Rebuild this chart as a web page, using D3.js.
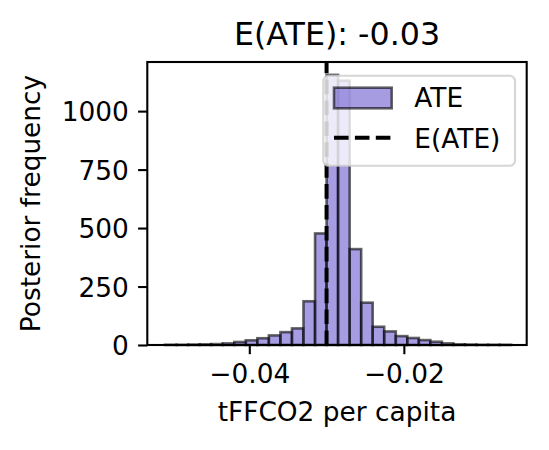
<!DOCTYPE html>
<html>
<head>
<meta charset="utf-8">
<script src="https://cdn.jsdelivr.net/npm/d3@7"></script>
<style>
    body { margin: 0; background: #fff; }
    text { font-family: "DejaVu Sans", sans-serif; fill: #000; }
</style>
</head>
<body>
<div id="graph1"></div>
<script>

// histogram bins
let binEdges = [-0.05090, -0.04941, -0.04791, -0.04642, -0.04493, -0.04344, -0.04194, -0.04045,
    -0.03896, -0.03747, -0.03597, -0.03448, -0.03299, -0.03149, -0.03000, -0.02851, -0.02701,
    -0.02552, -0.02403, -0.02254, -0.02104, -0.01955, -0.01806, -0.01657, -0.01507, -0.01358,
    -0.01209, -0.01060, -0.00910, -0.00761, -0.00612];
let binCounts = [1, 1, 2, 3, 4, 7, 13, 20, 29, 41, 55, 71, 187, 477, 1155, 1130, 410, 181,
    78, 58, 38, 30, 21, 14, 7, 3, 2, 1, 1, 1];
let meanATE = -0.0300;

let xTicks = [-0.04, -0.02];
let yTicks = [0, 250, 500, 750, 1000];
let xDomain = [-0.0532, -0.0041];
let yDomain = [0, 1210];

let width = 549,
    height = 450;
let margin = { top: 62, right: 22.3, bottom: 105, left: 147.3 };
let plotW = width - margin.left - margin.right,
    plotH = height - margin.top - margin.bottom;

let bins = binCounts.map(function (c, i) {
    return { x0: binEdges[i], x1: binEdges[i + 1], count: c };
});

let svg = d3.select("#graph1")
    .append("svg")
    .attr("width", width)
    .attr("height", height)
    .append("g")
    .attr("transform", `translate(${margin.left}, ${margin.top})`);

let x = d3.scaleLinear().domain(xDomain).range([0, plotW]);
let y = d3.scaleLinear().domain(yDomain).range([plotH, 0]);

// bars
svg.append("g")
    .selectAll("rect")
    .data(bins)
    .enter()
    .append("rect")
    .attr("x", function (d) { return x(d.x0) })
    .attr("y", function (d) { return y(d.count) })
    .attr("width", function (d) { return x(d.x1) - x(d.x0) })
    .attr("height", function (d) { return y(0) - y(d.count) })
    .attr("fill", "#6a5acd")
    .attr("fill-opacity", 0.6)
    .attr("stroke", "#000")
    .attr("stroke-opacity", 0.6)
    .attr("stroke-width", 2.6);

// mean line
svg.append("line")
    .attr("x1", x(meanATE))
    .attr("x2", x(meanATE))
    .attr("y1", plotH)
    .attr("y2", 0)
    .attr("stroke", "#000")
    .attr("stroke-width", 4)
    .attr("stroke-dasharray", "14.6,6.3");

// axes
let xAxis = svg.append("g")
    .attr("transform", `translate(0, ${plotH})`)
    .call(d3.axisBottom(x).tickValues(xTicks).tickFormat(d3.format(".2f"))
        .tickSize(9.2).tickPadding(8.5).tickSizeOuter(0));
let yAxis = svg.append("g")
    .call(d3.axisLeft(y).tickValues(yTicks).tickFormat(d3.format("d"))
        .tickSize(9.2).tickPadding(9.2).tickSizeOuter(0));

[xAxis, yAxis].forEach(function (a) {
    a.select(".domain").remove();
    a.selectAll("line").attr("stroke", "#000").attr("stroke-width", 2.1);
    a.selectAll("text").style("font-size", "26.4px").attr("fill", "#000");
});
yAxis.selectAll("text").attr("dy", "0.36em");
xAxis.selectAll("text").attr("dy", "0.76em");

// frame
svg.append("rect")
    .attr("width", plotW)
    .attr("height", plotH)
    .attr("fill", "none")
    .attr("stroke", "#000")
    .attr("stroke-width", 2.1);

// legend
let leg = svg.append("g")
    .attr("transform", `translate(${323.3 - margin.left}, ${75.7 - margin.top})`);
leg.append("rect")
    .attr("width", 191.7)
    .attr("height", 90)
    .attr("rx", 5.3)
    .attr("fill", "#fff")
    .attr("fill-opacity", 0.8)
    .attr("stroke", "#ccc")
    .attr("stroke-opacity", 0.8)
    .attr("stroke-width", 2.1);
leg.append("rect")
    .attr("x", 10.7)
    .attr("y", 12)
    .attr("width", 57.7)
    .attr("height", 20.6)
    .attr("fill", "#6a5acd")
    .attr("fill-opacity", 0.6)
    .attr("stroke", "#000")
    .attr("stroke-opacity", 0.6)
    .attr("stroke-width", 2.6);
leg.append("line")
    .attr("x1", 10.7)
    .attr("x2", 68.4)
    .attr("y1", 62)
    .attr("y2", 62)
    .attr("stroke", "#000")
    .attr("stroke-width", 4)
    .attr("stroke-dasharray", "14.6,6.3");
leg.append("text")
    .attr("x", 91)
    .attr("y", 31.5)
    .style("font-size", "26.4px")
    .text("ATE");
leg.append("text")
    .attr("x", 91)
    .attr("y", 72.5)
    .style("font-size", "26.4px")
    .text("E(ATE)");

// labels
svg.append("text")
    .attr("transform", `translate(${plotW / 2}, ${421 - margin.top})`)
    .style("text-anchor", "middle")
    .style("font-size", "26.4px")
    .text("tFFCO2 per capita");

svg.append("text")
    .attr("transform", `translate(${39.5 - margin.left}, ${plotH / 2}) rotate(-90)`)
    .style("text-anchor", "middle")
    .style("font-size", "26.4px")
    .text("Posterior frequency");

svg.append("text")
    .attr("transform", `translate(${plotW / 2}, ${45 - margin.top})`)
    .style("text-anchor", "middle")
    .style("font-size", "31.7px")
    .text("E(ATE): " + d3.format(".2f")(meanATE).replace("\u2212", "-"));

</script>
</body>
</html>
